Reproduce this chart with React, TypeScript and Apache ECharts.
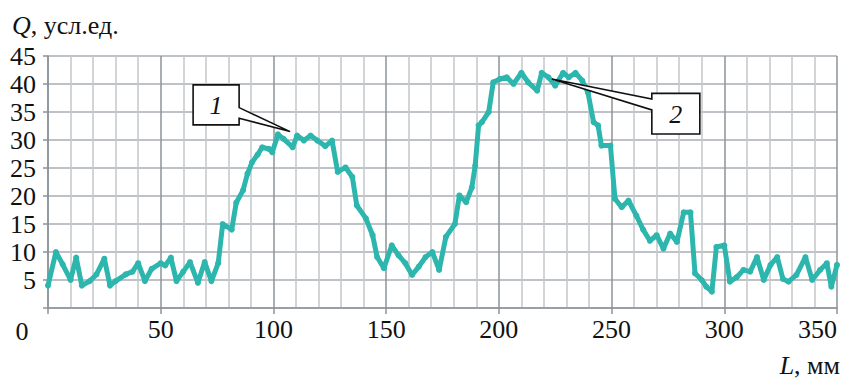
import React, { useEffect, useRef } from "react";
import * as echarts from "echarts";

// Distance along the sample, mm
const positions = [
  0, 3.5, 6.5, 10, 12.5, 15, 18.5, 21.5, 25, 27.5, 30, 34.5, 37.5, 40, 43, 46, 50, 52, 54.5, 57,
  60, 63, 66.5, 69.5, 72.5, 75.5, 77.5, 81.5, 83.5, 86.5, 88.5, 90.5, 93, 95, 98, 99.5, 102, 104.5,
  108.5, 110.5, 113.5, 116.5, 119.5, 123, 126, 128.5, 132, 135, 137, 141, 144, 146, 149, 152.5,
  155.5, 158.5, 161.5, 164.5, 167.5, 170.5, 173.5, 176.5, 180.5, 182.5, 185.5, 188, 189.5, 191,
  192.5, 195.5, 197.5, 200.5, 203.5, 206.5, 210, 213, 217, 219, 222, 225, 228.5, 231, 234, 237,
  239.5, 242, 244, 245.5, 249.5, 251.5, 254.5, 257.5, 261, 264, 267, 270, 273, 276, 279, 282, 285,
  287, 290, 292, 294.5, 296.5, 300, 302.5, 305.5, 308.5, 311.5, 314.5, 317.5, 320.5, 323.5, 326,
  328.5, 332, 336, 339, 342.5, 345.5, 347.5, 350,
];

// Signal level Q, conventional units
const values = [
  4, 10, 7.8, 5, 9, 4, 4.8, 6, 8.8, 4, 4.8, 6, 6.5, 8, 4.8, 7, 8, 7.6, 9, 4.8,
  6.5, 8.2, 4.5, 8.2, 4.8, 8, 15, 14, 18.8, 21, 24, 26, 27.4, 28.7, 28.4, 27.8, 31, 30.2,
  28.7, 30.8, 29.9, 30.8, 29.9, 28.9, 29.9, 24.3, 25.1, 23.4, 18.3, 16, 13, 9.1, 7.1, 11.2,
  9.4, 8, 5.9, 7.4, 9.1, 10, 6.8, 12.7, 15, 20.1, 18.9, 21.5, 25.4, 32.6,
  33.2, 35, 40.3, 40.9, 41.2, 40, 42, 40.3, 38.8, 42, 41.2, 39.7, 42, 41.2, 42, 40.6,
  38.5, 33.2, 32.6, 29, 29, 19.5, 18, 19.2, 16.5, 14, 12, 13, 10.6, 13.3, 11.8, 17.1, 17.1,
  6.2, 5, 3.8, 2.9, 10.9, 11.2, 4.7, 5.5, 6.8, 6.5, 9.1, 5, 7.7, 9.1, 5.2,
  4.7, 5.9, 9.1, 5, 6.8, 8, 3.8, 7.7,
];

// Numbered callouts and the points they mark
const calloutLabels = ["1", "2"];
const calloutAnchors: [number, number][] = [
  [107.4, 31.5],
  [223.5, 40.9],
];

const SERIF = '"Times New Roman", "Liberation Serif", "DejaVu Serif", serif';
const LINE_COLOR = "#2db6ae";
const INK = "#111111";

const textStyle = (text: string, size: number, italic: boolean, align: string) => ({
  text,
  font: `${italic ? "italic " : ""}${size}px ${SERIF}`,
  fill: INK,
  align,
  verticalAlign: "middle",
});

// Axis title with an italic variable name followed by its unit
const titleStyle = (symbol: string, unit: string, size: number, align: string) => ({
  text: `{i|${symbol}}{n|${unit}}`,
  fill: INK,
  align,
  verticalAlign: "middle",
  rich: {
    i: { fontFamily: SERIF, fontStyle: "italic", fontSize: size, fill: INK },
    n: { fontFamily: SERIF, fontSize: size, fill: INK },
  },
});

export default function App() {
  const ref = useRef<HTMLDivElement>(null);

  useEffect(() => {
    if (!ref.current) return;
    const chart = echarts.init(ref.current, undefined, { renderer: "svg" });
    const data = positions.map((p, i) => [p, values[i]]);

    chart.setOption({
      animation: false,
      backgroundColor: "#ffffff",
      textStyle: { fontFamily: SERIF },
      grid: { left: 48, right: 7, top: 56, bottom: 70, containLabel: false },
      xAxis: {
        type: "value",
        min: 0,
        max: 350,
        interval: 50,
        axisLine: { show: true, lineStyle: { color: "#8d9399", width: 1.5 } },
        axisTick: { show: true, length: 6, lineStyle: { color: "#8d9399", width: 1.5 } },
        axisLabel: {
          fontFamily: SERIF,
          fontSize: 26,
          color: INK,
          margin: 8,
          alignMaxLabel: "right",
          formatter: (v: number) => (v === 0 ? "" : String(v)),
        },
        splitLine: { show: true, lineStyle: { color: "#8d9399", width: 1.5 } },
        minorTick: { show: false, splitNumber: 5 },
        minorSplitLine: { show: true, lineStyle: { color: "#c3c7cb", width: 1.5 } },
      },
      yAxis: {
        type: "value",
        min: 0,
        max: 45,
        interval: 5,
        axisLine: { show: true, lineStyle: { color: "#8d9399", width: 1.5 } },
        axisTick: { show: true, length: 5, lineStyle: { color: "#8d9399", width: 1.5 } },
        axisLabel: {
          fontFamily: SERIF,
          fontSize: 26,
          color: INK,
          margin: 12,
          formatter: (v: number) => (v === 0 ? "" : String(v)),
        },
        splitLine: { show: true, lineStyle: { color: "#a9aeb3", width: 1.5 } },
      },
      series: [
        {
          type: "line",
          data,
          symbol: "circle",
          symbolSize: 6,
          lineStyle: { color: LINE_COLOR, width: 5 },
          itemStyle: { color: LINE_COLOR },
          z: 3,
        },
      ],
    });

    // Callout boxes pointing at the two plateaus
    const tip1 = chart.convertToPixel({ gridIndex: 0 }, calloutAnchors[0]) as number[];
    const tip2 = chart.convertToPixel({ gridIndex: 0 }, calloutAnchors[1]) as number[];

    const b1 = { x: tip1[0] - 97, y: tip1[1] - 46.7, w: 46, h: 40 };
    const b2 = { x: tip2[0] + 100, y: tip2[1] + 14.4, w: 48, h: 40.6 };

    const calloutStyle = { fill: "#ffffff", stroke: INK, lineWidth: 1.6 };

    chart.setOption({
      graphic: [
        {
          type: "polygon",
          z: 100,
          shape: {
            points: [
              [b1.x, b1.y],
              [b1.x + b1.w, b1.y],
              [b1.x + b1.w, b1.y + 22.7],
              [tip1[0], tip1[1]],
              [b1.x + b1.w, b1.y + 33.3],
              [b1.x + b1.w, b1.y + b1.h],
              [b1.x, b1.y + b1.h],
            ],
          },
          style: calloutStyle,
        },
        {
          type: "text",
          z: 101,
          x: b1.x + b1.w / 2,
          y: b1.y + b1.h / 2 + 1,
          style: textStyle(calloutLabels[0], 26, true, "center"),
        },
        {
          type: "polygon",
          z: 100,
          shape: {
            points: [
              [b2.x, b2.y],
              [b2.x + b2.w, b2.y],
              [b2.x + b2.w, b2.y + b2.h],
              [b2.x, b2.y + b2.h],
              [b2.x, b2.y + 16.6],
              [tip2[0], tip2[1]],
              [b2.x, b2.y + 5.6],
            ],
          },
          style: calloutStyle,
        },
        {
          type: "text",
          z: 101,
          x: b2.x + b2.w / 2,
          y: b2.y + b2.h / 2 + 1,
          style: textStyle(calloutLabels[1], 26, true, "center"),
        },
        {
          type: "text",
          z: 101,
          x: 22,
          y: 331,
          style: textStyle("0", 26, false, "center"),
        },
        {
          type: "text",
          z: 101,
          x: 12,
          y: 25,
          style: titleStyle("Q", ", усл.ед.", 26, "left"),
        },
        {
          type: "text",
          z: 101,
          x: 840,
          y: 365,
          style: titleStyle("L", ", мм", 26, "right"),
        },
      ],
    });

    return () => chart.dispose();
  }, []);

  return <div ref={ref} style={{ width: 844, height: 378, position: "absolute", left: 0, top: 0 }} />;
}
